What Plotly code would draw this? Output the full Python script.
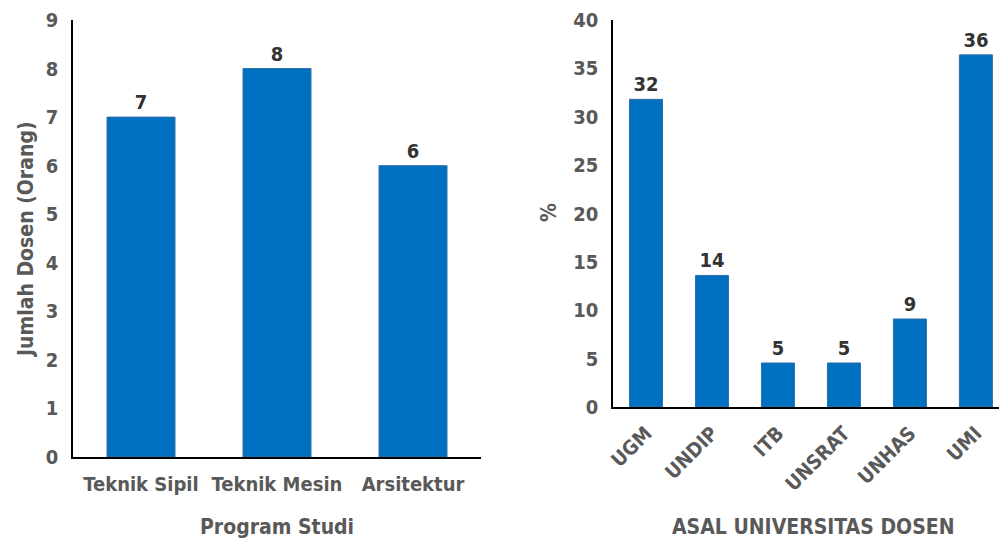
import plotly.graph_objects as go

# Left chart data
prodi = ["Teknik Sipil", "Teknik Mesin", "Arsitektur"]
jumlah_dosen = [7, 8, 6]

# Right chart data
universitas = ["UGM", "UNDIP", "ITB", "UNSRAT", "UNHAS", "UMI"]
persen = [31.8, 13.6, 4.55, 4.55, 9.1, 36.4]

FONT = "DejaVu Sans Condensed, Liberation Sans Narrow, Arial Narrow, sans-serif"
BAR = "#0070C0"
EDGE = "#2F6FA8"
TICK = "#595959"
LABEL = "#333333"

W, H = 999, 543

fig = go.Figure()
fig.add_trace(go.Bar(
    x=prodi, y=jumlah_dosen, xaxis="x", yaxis="y",
    marker=dict(color=BAR, line=dict(color=EDGE, width=1)),
    texttemplate="%{y}", textposition="outside", cliponaxis=False,
    textfont=dict(family=FONT, size=20, color=LABEL, weight="bold"),
))
fig.add_trace(go.Bar(
    x=universitas, y=persen, xaxis="x2", yaxis="y2",
    marker=dict(color=BAR, line=dict(color=EDGE, width=1)),
    texttemplate="%{y:.0f}", textposition="outside", cliponaxis=False,
    textfont=dict(family=FONT, size=20, color=LABEL, weight="bold"),
))

tickfont = dict(family=FONT, size=20, color=TICK, weight="bold")
axis_common = dict(showgrid=False, zeroline=False, showline=True,
                   linecolor="black", linewidth=1.5, ticks="",
                   tickfont=tickfont, fixedrange=True, automargin=False)

fig.update_layout(
    width=W, height=H,
    margin=dict(l=0, r=0, t=0, b=0),
    paper_bgcolor="white", plot_bgcolor="white",
    showlegend=False, bargap=0.5,
    xaxis=dict(domain=[73 / W, 481 / W], anchor="y", range=[-0.5, 2.5],
               ticklabelstandoff=8, **axis_common),
    yaxis=dict(domain=[(H - 457) / H, (H - 20) / H], anchor="x", range=[0, 9],
               dtick=1, ticklabelstandoff=9, **axis_common),
    xaxis2=dict(domain=[613 / W, 1.0], anchor="y2", range=[-0.5, 5.35],
                tickangle=-45, ticklabelstandoff=5, **axis_common),
    yaxis2=dict(domain=[(H - 407) / H, (H - 20) / H], anchor="x2", range=[0, 40],
                dtick=5, ticklabelstandoff=9, **axis_common),
)

title_font = dict(family=FONT, size=21, color=TICK, weight="bold")
fig.add_annotation(text="Jumlah Dosen (Orang)", x=26 / W, y=(H - 240) / H,
                   xref="paper", yref="paper", showarrow=False, textangle=-90,
                   font=title_font, xanchor="center", yanchor="middle")
fig.add_annotation(text="Program Studi", x=277 / W, y=(H - 527) / H,
                   xref="paper", yref="paper", showarrow=False,
                   font=title_font, xanchor="center", yanchor="middle")
fig.add_annotation(text="%", x=549 / W, y=(H - 213) / H,
                   xref="paper", yref="paper", showarrow=False, textangle=-90,
                   font=title_font, xanchor="center", yanchor="middle")
fig.add_annotation(text="ASAL UNIVERSITAS DOSEN", x=813 / W, y=(H - 527) / H,
                   xref="paper", yref="paper", showarrow=False,
                   font=title_font, xanchor="center", yanchor="middle")

fig.write_html("out.html")
